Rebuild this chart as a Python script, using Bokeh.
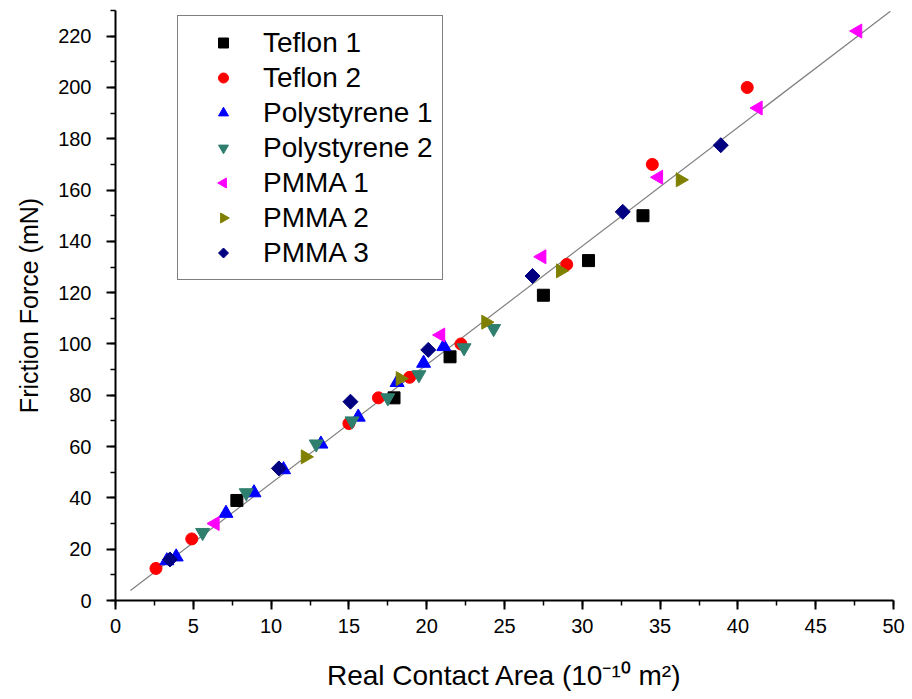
from bokeh.plotting import figure
from bokeh.models import Range1d, SingleIntervalTicker, CustomJS
from bokeh.embed import file_html
from bokeh.resources import INLINE

# ---- data ----
teflon1_x = [7.8, 17.9, 21.5, 27.5, 30.4, 33.9]
teflon1_y = [39, 79, 95, 119, 132.5, 150]

teflon2_x = [2.6, 4.9, 15.0, 16.9, 18.9, 22.2, 29.0, 34.5, 40.6]
teflon2_y = [12.5, 24, 69, 79, 87, 100, 131, 170, 200]

poly1_x = [3.3, 3.9, 7.1, 8.9, 10.8, 13.2, 15.6, 18.1, 19.8, 21.1]
poly1_y = [15.5, 17, 34, 42, 51, 61, 71.5, 85, 92.5, 99]

poly2_x = [5.6, 8.4, 12.9, 15.2, 17.5, 19.5, 22.4, 24.3]
poly2_y = [26.5, 42, 61, 70, 79, 88, 98.5, 106]

pmma1_x = [6.4, 20.9, 27.4, 34.9, 41.3, 47.7]
pmma1_y = [30, 103.5, 134, 165, 192, 222]

pmma2_x = [12.2, 18.3, 23.8, 28.6, 36.3]
pmma2_y = [56, 86.5, 108.5, 128.5, 164]

pmma3_x = [3.5, 10.5, 15.1, 20.1, 26.8, 32.6, 38.9]
pmma3_y = [16, 51.5, 77.5, 97.7, 126.5, 151.5, 177.5]

fit_x = [0.96, 49.8]
fit_y = [3.9, 229.7]

x_label = "Real Contact Area (10\u207b\u00b9\u2070 m\u00b2)"
y_label = "Friction Force (mN)"

FONT = "Liberation Sans"

# custom markers (also drawn this way in the legend)
LEFT_TRI = CustomJS(code="""
export default (args, obj, {ctx, i, r, visuals}) => {
  const h = r * Math.sqrt(3)
  ctx.beginPath()
  ctx.moveTo(-2 * h / 3, 0)
  ctx.lineTo(h / 3, -r)
  ctx.lineTo(h / 3, r)
  ctx.closePath()
  visuals.fill.apply(ctx, i)
  visuals.hatch.apply(ctx, i)
  visuals.line.apply(ctx, i)
}
""")
RIGHT_TRI = CustomJS(code="""
export default (args, obj, {ctx, i, r, visuals}) => {
  const h = r * Math.sqrt(3)
  ctx.beginPath()
  ctx.moveTo(2 * h / 3, 0)
  ctx.lineTo(-h / 3, -r)
  ctx.lineTo(-h / 3, r)
  ctx.closePath()
  visuals.fill.apply(ctx, i)
  visuals.hatch.apply(ctx, i)
  visuals.line.apply(ctx, i)
}
""")
DIAMOND = CustomJS(code="""
export default (args, obj, {ctx, i, r, visuals}) => {
  ctx.beginPath()
  ctx.moveTo(0, -r)
  ctx.lineTo(r, 0)
  ctx.lineTo(0, r)
  ctx.lineTo(-r, 0)
  ctx.closePath()
  visuals.fill.apply(ctx, i)
  visuals.hatch.apply(ctx, i)
  visuals.line.apply(ctx, i)
}
""")

p = figure(width=912, height=699,
           x_range=Range1d(0, 50), y_range=Range1d(0, 230),
           output_backend="svg", toolbar_location=None,
           min_border_left=115, min_border_right=19,
           min_border_top=10, min_border_bottom=99,
           background_fill_color="white", border_fill_color="white")
p.xgrid.visible = False
p.ygrid.visible = False
p.outline_line_color = None

p.line(fit_x, fit_y, line_color="#808080", line_width=1.2)

p.scatter(teflon1_x, teflon1_y, marker="square", size=12, color="black",
          legend_label="Teflon 1")
p.scatter(teflon2_x, teflon2_y, marker="circle", size=12, color="#FF0000",
          legend_label="Teflon 2")
p.scatter(poly1_x, poly1_y, marker="triangle", size=14, color="#0000FF",
          legend_label="Polystyrene 1")
p.scatter(poly2_x, poly2_y, marker="inverted_triangle", size=14, color="#2F7F6F",
          legend_label="Polystyrene 2")
p.scatter(pmma1_x, pmma1_y, marker="@ltri", defs={"@ltri": LEFT_TRI}, size=14,
          color="#FF00FF", legend_label="PMMA 1")
p.scatter(pmma2_x, pmma2_y, marker="@rtri", defs={"@rtri": RIGHT_TRI}, size=14,
          color="#808000", legend_label="PMMA 2")
p.scatter(pmma3_x, pmma3_y, marker="@diam", defs={"@diam": DIAMOND}, size=15,
          color="#000080", legend_label="PMMA 3")

for ax in (p.xaxis[0], p.yaxis[0]):
    ax.axis_line_width = 2
    ax.axis_line_color = "black"
    ax.major_tick_line_width = 2
    ax.minor_tick_line_width = 1.5
    ax.major_tick_in = 0
    ax.major_tick_out = 9
    ax.minor_tick_in = 0
    ax.minor_tick_out = 5
    ax.major_label_text_font = FONT
    ax.major_label_text_font_size = "20px"
    ax.major_label_text_color = "black"
    ax.axis_label_text_font = FONT
    ax.axis_label_text_font_style = "normal"
    ax.axis_label_text_color = "black"

p.xaxis.axis_label_text_font_size = "28px"
p.yaxis.axis_label_text_font_size = "25px"
p.xaxis.ticker = SingleIntervalTicker(interval=5, num_minor_ticks=2)
p.yaxis.ticker = SingleIntervalTicker(interval=20, num_minor_ticks=2)
p.xaxis.major_label_standoff = 9
p.yaxis.major_label_standoff = 15
p.xaxis.axis_label = x_label
p.yaxis.axis_label = y_label
p.xaxis.axis_label_standoff = 24
p.yaxis.axis_label_standoff = 12

lg = p.legend[0]
lg.location = (62, 320)
lg.border_line_color = "black"
lg.border_line_width = 1.5
lg.background_fill_color = "white"
lg.background_fill_alpha = 1
lg.padding = 9
lg.spacing = 0
lg.margin = 0
lg.glyph_width = 72
lg.glyph_height = 25
lg.label_height = 35
lg.label_standoff = 4
lg.label_text_font = FONT
lg.label_text_font_size = "28px"
lg.label_text_color = "black"

open("out.html", "w").write(file_html(p, INLINE))
